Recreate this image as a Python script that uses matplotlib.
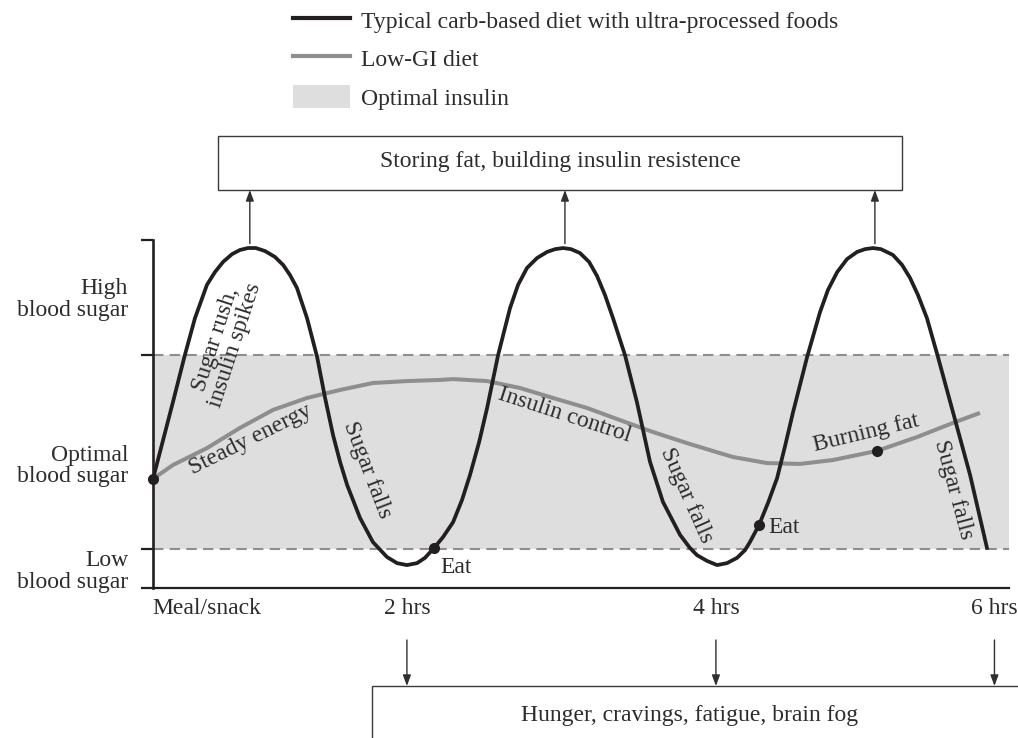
import numpy as np
import matplotlib.pyplot as plt
from matplotlib.lines import Line2D
from matplotlib.patches import Patch, Rectangle

plt.rcParams['font.family'] = ['Liberation Serif', 'DejaVu Serif']

# minutes after the meal / blood sugar (mg/dL)
carb_t = [0, 4.3, 8.5, 13.6, 17.9, 23.0, 26.4, 29.9, 33.7, 37.1, 40.5, 43.9, 47.8, 52.0,
          55.5, 58.4, 61.4, 65.7, 70.0, 73.4, 76.8, 79.8, 82.8, 88.3, 93.8, 99.8, 104.1,
          108.3, 112.6, 116.0, 119.9, 123.7, 128.0, 131.8, 135.2, 139.1, 142.5, 147.2,
          152.3, 155.7, 159.5, 163.8, 168.1, 171.5, 174.9, 178.3, 182.1, 186.0, 189.4,
          192.8, 196.2, 201.3, 206.4, 212.0, 217.5, 224.8, 229.0, 232.0, 236.3, 240.6,
          244.8, 249.1, 252.5, 254.6, 258.5, 262.3, 266.2, 269.6, 273.0, 279.0, 284.5,
          287.9, 291.8, 296.0, 300.3, 303.7, 307.1, 310.5, 315.6, 319.5, 322.9, 326.3,
          330.1, 334.8, 341.2, 348.5, 355.7]
carb_bs = [95.3, 109.3, 123.0, 140.0, 153.3, 165.3, 169.9, 173.6, 176.4, 177.9, 178.6,
           178.6, 177.5, 175.4, 172.5, 168.9, 164.2, 153.3, 139.3, 124.5, 111.1, 101.4,
           93.1, 81.2, 72.5, 67.1, 64.9, 64.2, 64.9, 66.8, 70.4, 74.3, 79.7, 87.7, 96.7,
           108.6, 120.9, 140.0, 157.0, 165.3, 171.4, 175.0, 177.2, 178.2, 178.6, 178.2,
           176.8, 173.6, 168.5, 161.6, 153.3, 140.0, 123.0, 101.4, 87.0, 75.1, 70.4, 67.8,
           65.7, 64.2, 64.9, 66.8, 69.6, 72.5, 78.7, 86.6, 95.6, 107.2, 119.4, 139.3,
           155.5, 163.5, 169.9, 174.6, 177.2, 178.2, 178.6, 178.2, 176.1, 172.5, 167.8,
           161.6, 153.3, 139.3, 119.4, 96.7, 70.4]

lowgi_t = [0, 8.5, 23.0, 37.1, 51.2, 65.7, 79.8, 93.8, 108.3, 122.4, 128.0, 142.5, 156.5,
           170.6, 185.1, 199.2, 213.3, 227.8, 241.8, 247.4, 261.9, 275.9, 290.0, 308.8,
           325.9, 341.2, 352.7]
lowgi_bs = [95.3, 100.3, 106.4, 113.7, 120.2, 124.5, 127.4, 129.9, 130.6, 131.0, 131.3,
            130.6, 128.1, 124.5, 120.9, 116.5, 112.2, 108.2, 104.6, 103.2, 101.0, 100.7,
            102.1, 105.4, 110.4, 115.5, 119.1]

dot_t = [0, 119.9, 258.5, 308.8]
dot_bs = [95.3, 70.4, 78.7, 105.4]

low_limit = 70
high_limit = 140

time_labels = ['Meal/snack', '2 hrs', '4 hrs', '6 hrs']
level_labels = ['Low\nblood sugar', 'Optimal\nblood sugar', 'High\nblood sugar']
legend_labels = ['Typical carb-based diet with ultra-processed foods', 'Low-GI diet',
                 'Optimal insulin']

ink = '#231f20'
txt = '#2e2b2c'
grey = '#8e8e8e'
band = '#dedede'
W, H = 1018, 738
FS = 17

def fxy(px, py):
    return px / W, 1 - py / H

fig = plt.figure(figsize=(W / 100, H / 100), dpi=100)
ax = fig.add_axes([153 / W, 150 / H, 856 / W, 348 / H])
ax.set_xlim(0, 365.1)
ax.set_ylim(55.93, 181.5)

ax.axhspan(low_limit, high_limit, color=band, lw=0, zorder=0)
for lvl in (low_limit, high_limit):
    ax.axhline(lvl, color=grey, lw=1.5, ls=(0, (5, 3)), zorder=1)

ax.plot(lowgi_t, lowgi_bs, color=grey, lw=2.9, solid_capstyle='butt', zorder=2)
ax.plot(carb_t, carb_bs, color=ink, lw=2.7, solid_joinstyle='round', zorder=3)
ax.plot(dot_t, dot_bs, 'o', color=ink, ms=7, zorder=4, clip_on=False)

# axes
for s in ('top', 'right'):
    ax.spines[s].set_visible(False)
ax.spines['left'].set_color(ink)
ax.spines['left'].set_linewidth(1.9)
ax.spines['bottom'].set_color(ink)
ax.spines['bottom'].set_linewidth(1.6)
ax.set_yticks([55.93, low_limit, high_limit, 181.5])
ax.set_yticklabels([])
ax.tick_params(axis='y', which='major', length=9, width=1.6, color=ink)
ax.set_yticks([63, 101, 161], level_labels, minor=True)
ax.tick_params(axis='y', which='minor', length=0, pad=18, labelsize=FS, labelcolor=txt)
for lab in ax.get_yticklabels(minor=True):
    lab.set_linespacing(1.05)
time_pos = [22.8, 108.3, 240.1, 358.9]
ax.set_xticks(time_pos, time_labels)
ax.tick_params(axis='x', length=0, pad=7, labelsize=FS, labelcolor=txt)

# curve annotations
notes = [
    ('Sugar rush,\ninsulin spikes', 30.9, 144.7, 72),
    ('Steady energy', 41.4, 109.3, 26.5),
    ('Sugar falls', 91.3, 98.5, -69),
    ('Insulin control', 175.7, 118.3, -18),
    ('Sugar falls', 227.3, 89.5, -66),
    ('Burning fat', 304.1, 111.9, 13.5),
    ('Sugar falls', 341.2, 91.3, -75),
]
for s, x, y, r in notes:
    ax.text(x, y, s, rotation=r, rotation_mode='anchor', ha='center', va='center',
            fontsize=FS, color=txt, linespacing=0.92, zorder=5)
ax.text(122.4, 63.5, 'Eat', ha='left', va='center', fontsize=FS, color=txt)
ax.text(262.3, 77.6, 'Eat', ha='left', va='center', fontsize=FS, color=txt)

# arrows from the spikes up to the top box
cb = np.array(carb_bs)
peaks = [i for i in range(1, len(cb) - 1) if cb[i] > cb[i - 1] and cb[i] >= cb[i + 1]]
arrow = dict(arrowstyle='-|>,head_length=0.65,head_width=0.24', color='#2f2f2f', lw=1.0,
             shrinkA=0, shrinkB=0)
for i in peaks:
    ax.annotate('', xy=(carb_t[i] + 0.8, H - 190), xycoords=('data', 'figure pixels'),
                xytext=(carb_t[i] + 0.8, carb_bs[i] + 1.6), textcoords='data',
                arrowprops=arrow, annotation_clip=False)
for x in time_pos[1:]:
    ax.annotate('', xy=(x, H - 686), xycoords=('data', 'figure pixels'),
                xytext=(x, H - 640), textcoords=('data', 'figure pixels'),
                arrowprops=arrow, annotation_clip=False)

fig.add_artist(Rectangle(fxy(218, 190), 684 / W, 54 / H, transform=fig.transFigure,
                         fill=False, ec='#3a3a3a', lw=1.0))
fig.text(*fxy(560, 162), 'Storing fat, building insulin resistence', ha='center',
         va='center', fontsize=FS, color=txt)
fig.add_artist(Rectangle(fxy(372, 760), 700 / W, 74 / H, transform=fig.transFigure,
                         fill=False, ec='#3a3a3a', lw=1.0))
fig.text(*fxy(690, 716), 'Hunger, cravings, fatigue, brain fog', ha='center',
         va='center', fontsize=FS, color=txt)

handles = [Line2D([], [], color=ink, lw=3.0), Line2D([], [], color=grey, lw=3.0),
           Patch(facecolor=band, edgecolor='none')]
fig.legend(handles, legend_labels, loc='upper left', bbox_to_anchor=fxy(293, 8),
           frameon=False, fontsize=FS, labelcolor=txt, borderpad=0, borderaxespad=0,
           handlelength=2.4, handleheight=1.15, handletextpad=0.5, labelspacing=0.58)

fig.savefig('out.png', dpi=100)
